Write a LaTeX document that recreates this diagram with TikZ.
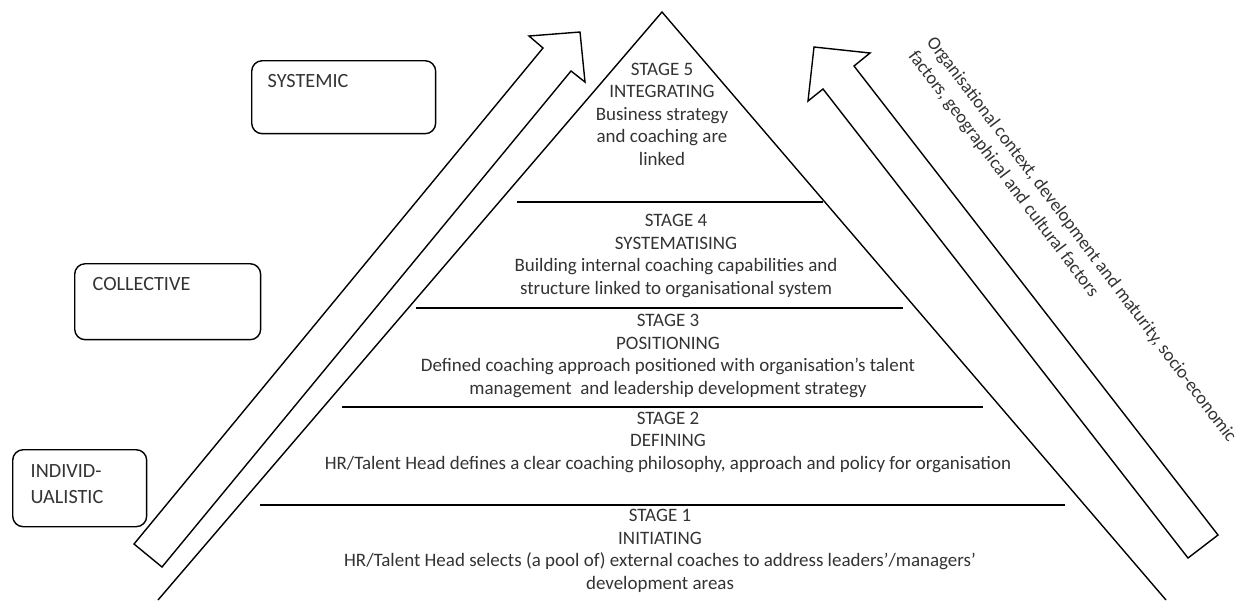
\documentclass[tikz,border=0pt]{standalone}
\usepackage{fontspec}
\setmainfont{Carlito}
\usetikzlibrary{positioning}

\begin{document}
\begin{tikzpicture}[x=0.02cm, y=-0.02cm, line width=0.8pt,
	stagetext/.style={align=center, text=black!80,
	font=\fontsize{10.8}{12.8}\selectfont},
	levelbox/.style={draw, rounded corners=6pt, inner sep=0pt, anchor=north west},
	leveltext/.style={align=left, text=black!80, inner sep=0pt,
	font=\fontsize{11.5}{14.5}\selectfont}]
\useasboundingbox (0,0) rectangle (1250,600);
%Pyramide zeichnen
\coordinate (apex) at (662,12);
\coordinate (baseL) at (158,600);
\coordinate (baseR) at (1166,600);
\draw (baseL) -- (apex) -- (baseR);
% Trennlinien
\draw[line width=1pt] (517,202) -- (823,202);
\draw[line width=1pt] (416,308) -- (903,308);
\draw[line width=1pt] (342,407) -- (983,407);
\draw[line width=1pt] (260,505) -- (1065,505);
% Stufen beschriften
\node[stagetext] (stage5) at (662,114) {STAGE 5\\INTEGRATING\\Business strategy\\and coaching are\\linked};
\node[stagetext] (stage4) at (676,256) {STAGE 4\\SYSTEMATISING\\Building internal coaching capabilities and\\structure linked to organisational system};
\node[stagetext] (stage3) at (668,356) {STAGE 3\\POSITIONING\\Defined coaching approach positioned with organisation’s talent\\management\ \ and leadership development strategy};
\node[stagetext] (stage2) at (668,442) {STAGE 2\\DEFINING\\HR/Talent Head defines a clear coaching philosophy, approach and policy for organisation};
\node[stagetext] (stage1) at (660,551) {STAGE 1\\INITIATING\\HR/Talent Head selects (a pool of) external coaches to address leaders’/managers’\\development areas};
% Pfeil links
\draw (134,544) -- (543,48) -- (529,36) -- (580,32) -- (585,82) -- (571,71) -- (162,567) -- cycle;
% Pfeil rechts
\draw (1218,535) -- (854,66) -- (870,53) -- (814,47) -- (808,101) -- (823,89) -- (1188,558) -- cycle;
\node[stagetext, rotate=-53, anchor=west, align=left,
	font=\fontsize{10.5}{13}\selectfont] (context) at (917,41)
	{Organisational context, development and maturity, socio-economic\\factors, geographical and cultural factors};
% Ebenen
\node[levelbox, minimum width=3.68cm, minimum height=1.46cm] (systemic) at (251,60) {};
\node[leveltext, below right=0.28cm and 0.32cm of systemic.north west] (systemicT) {SYSTEMIC};
\node[levelbox, minimum width=3.72cm, minimum height=1.52cm] (collective) at (74,263) {};
\node[leveltext, below right=0.28cm and 0.36cm of collective.north west] (collectiveT) {COLLECTIVE};
\node[levelbox, minimum width=2.68cm, minimum height=1.54cm] (individual) at (12,449) {};
\node[leveltext, below right=0.3cm and 0.36cm of individual.north west] (individualT) {INDIVID-\\UALISTIC};
\end{tikzpicture}
\end{document}
